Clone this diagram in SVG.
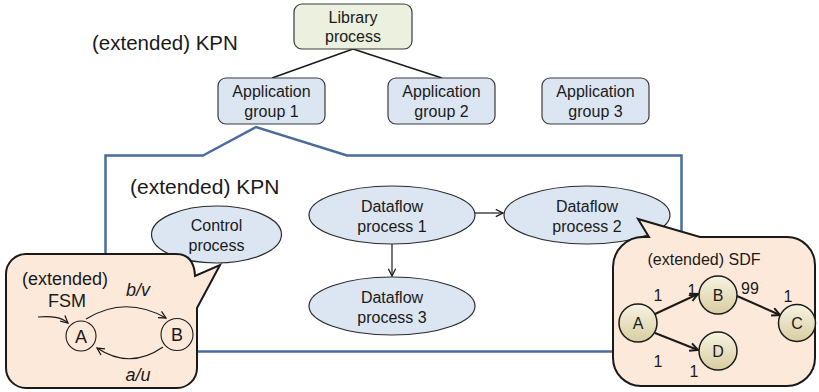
<svg xmlns="http://www.w3.org/2000/svg" width="819" height="392" viewBox="0 0 819 392">
<style>
text{font-family:"Liberation Sans",Arial,sans-serif;fill:#1a1a1a;text-anchor:middle}
.t16{font-size:16px}
.t18{font-size:18px}
.big{font-size:20.5px;text-anchor:start}
.box{stroke:#3a3a3a;stroke-width:1.2}
.lib{fill:#ebf1de}
.app{fill:#dce6f2}
.ell{fill:#dce6f2;stroke:#2a2a2a;stroke-width:1.2}
.bub{fill:#fde9d9;stroke:#1a1a1a;stroke-width:2}
.thin{fill:none;stroke:#1a1a1a;stroke-width:1.2}
.thick{fill:none;stroke:#1a1a1a;stroke-width:2}
.node{fill:url(#ng);stroke:#1a1a1a;stroke-width:1.5}
.st{fill:none;stroke:#1a1a1a;stroke-width:1.1}
.it{font-style:italic;font-size:18px}
</style>
<defs>
<linearGradient id="ng" x1="0" y1="0" x2="0" y2="1">
<stop offset="0" stop-color="#f7f3e3"/>
<stop offset="1" stop-color="#d8cda0"/>
</linearGradient>
<marker id="ah" viewBox="0 0 10 10" refX="9" refY="5" markerWidth="9" markerHeight="9" markerUnits="userSpaceOnUse" orient="auto">
<path d="M1,1 L9,5 L1,9" fill="none" stroke="#1a1a1a" stroke-width="1.4"/>
</marker>
<marker id="ahb" viewBox="0 0 10 10" refX="9" refY="5" markerWidth="10" markerHeight="10" markerUnits="userSpaceOnUse" orient="auto">
<path d="M1,1 L9,5 L1,9" fill="none" stroke="#1a1a1a" stroke-width="2"/>
</marker>
</defs>
<rect width="819" height="392" fill="#fff"/>
<text class="big" x="92" y="50">(extended) KPN</text>
<g id="connectors">
<line x1="353" y1="49" x2="272" y2="78" stroke="#1a1a1a" stroke-width="1.5"/>
<line x1="353" y1="49" x2="442" y2="78" stroke="#1a1a1a" stroke-width="1.5"/>
<path d="M203,155.5 L256,127 L347,155.5 L681.5,155.5 L681.5,351.5 L105.5,351.5 L105.5,155.5 Z" fill="none" stroke="#4a6b9c" stroke-width="2.5"/>
<line x1="475" y1="213" x2="503" y2="213" class="thin" marker-end="url(#ah)"/>
<line x1="392" y1="244" x2="392" y2="276" class="thin" marker-end="url(#ah)"/>
</g>
<g id="library">
<rect class="box lib" x="294" y="4" width="118" height="45" rx="8"/>
<text class="t16" x="353" y="23">Library</text>
<text class="t16" x="353" y="42">process</text>
</g>
<g id="app1">
<rect class="box app" x="218" y="78" width="107" height="46" rx="8"/>
<text class="t16" x="271.5" y="97">Application</text>
<text class="t16" x="271.5" y="117">group 1</text>
</g>
<g id="app2">
<rect class="box app" x="388" y="78" width="107" height="46" rx="8"/>
<text class="t16" x="441.5" y="97">Application</text>
<text class="t16" x="441.5" y="117">group 2</text>
</g>
<g id="app3">
<rect class="box app" x="542" y="78" width="107" height="46" rx="8"/>
<text class="t16" x="595.5" y="97">Application</text>
<text class="t16" x="595.5" y="117">group 3</text>
</g>
<text class="big" x="130" y="194" style="font-size:21px">(extended) KPN</text>
<g id="control">
<ellipse class="ell" cx="216.5" cy="234.5" rx="65" ry="28.5"/>
<text class="t16" x="216.5" y="231">Control</text>
<text class="t16" x="216.5" y="251">process</text>
</g>
<g id="df1">
<ellipse class="ell" cx="392" cy="215" rx="83" ry="29"/>
<text class="t16" x="392" y="211.5">Dataflow</text>
<text class="t16" x="392" y="231.5">process 1</text>
</g>
<g id="df2">
<ellipse class="ell" cx="587" cy="215" rx="83" ry="29"/>
<text class="t16" x="587" y="211.5">Dataflow</text>
<text class="t16" x="587" y="231.5">process 2</text>
</g>
<g id="df3">
<ellipse class="ell" cx="392" cy="306" rx="83" ry="29"/>
<text class="t16" x="392" y="302.5">Dataflow</text>
<text class="t16" x="392" y="322.5">process 3</text>
</g>
<g id="fsm">
<path class="bub" d="M26,254 L176,254 Q194,254 195,276 L220,265 L197,308 L197,368 A20,20 0 0 1 177,388 L26,388 A20,20 0 0 1 6,368 L6,274 A20,20 0 0 1 26,254 Z"/>
<text class="t18" x="65" y="285">(extended)</text>
<text class="t18" x="67" y="307">FSM</text>
<circle class="st" cx="81" cy="336" r="15"/>
<text class="t18" x="81" y="342.5">A</text>
<circle class="st" cx="177" cy="334.5" r="16"/>
<text class="t18" x="177" y="341">B</text>
<path class="thin" d="M38,317 C52,316 61,317 68,323" marker-end="url(#ah)"/>
<path class="thin" d="M86,319 Q125,295 166,318" marker-end="url(#ah)"/>
<path class="thin" d="M163,347 Q130,370 97,348" marker-end="url(#ah)"/>
<text class="it" x="138" y="296">b/v</text>
<text class="it" x="138" y="381">a/u</text>
</g>
<g id="sdf">
<path class="bub" d="M643,237 L649,237 L638,219 L700,237 L787,237 A28,28 0 0 1 815,265 L815,358 A28,28 0 0 1 787,386 L641,386 A28,28 0 0 1 613,358 L613,267 A30,30 0 0 1 643,237 Z"/>
<text class="t16" x="704" y="265">(extended) SDF</text>
<path class="thick" d="M655,314 L698,294" marker-end="url(#ahb)"/>
<path class="thick" d="M655,333 L698,350" marker-end="url(#ahb)"/>
<path class="thick" d="M737,296 L780,315" marker-end="url(#ahb)"/>
<circle class="node" cx="638" cy="323" r="19"/>
<text class="t16" x="638" y="329">A</text>
<circle class="node" cx="718" cy="295" r="19"/>
<text class="t16" x="718" y="301">B</text>
<circle class="node" cx="797" cy="323" r="18.5"/>
<text class="t16" x="797" y="329">C</text>
<circle class="node" cx="718" cy="351" r="19"/>
<text class="t16" x="718" y="357">D</text>
<text class="t16" x="658" y="301">1</text>
<text class="t16" x="692" y="296">1</text>
<text class="t16" x="750" y="294">99</text>
<text class="t16" x="788" y="302">1</text>
<text class="t16" x="658" y="367">1</text>
<text class="t16" x="694" y="377">1</text>
</g>
</svg>
